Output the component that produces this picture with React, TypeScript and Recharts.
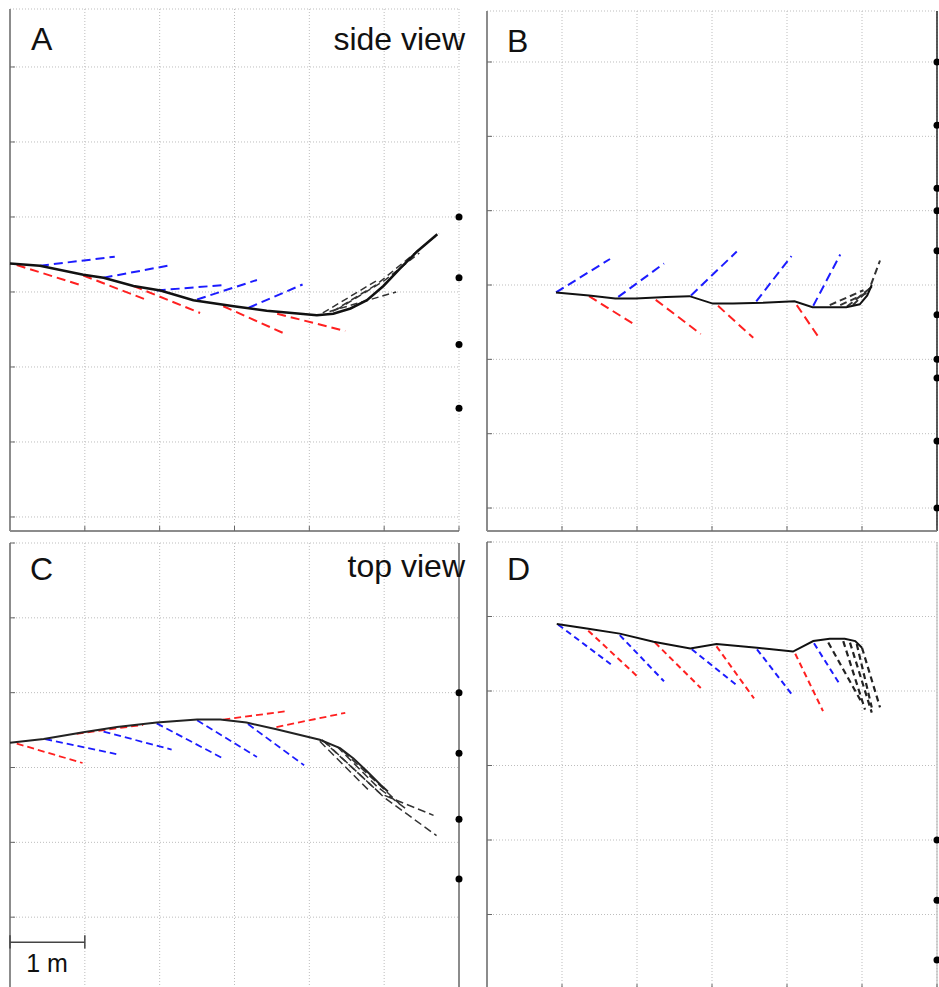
import React from "react";
import {
  ScatterChart,
  Scatter,
  XAxis,
  YAxis,
  CartesianGrid,
  ReferenceLine,
} from "recharts";

type Pt = [number, number];
type Path = Pt[];

// grid units are metres (one grid cell = 1 m)
const X_TICKS = [0, 1, 2, 3, 4, 5, 6];
const Y_TICKS_TOP = [0, 1, 2, 3, 4, 5, 6];
const Y_TICKS_BOTTOM = [-1, 0, 1, 2, 3, 4, 5];

// A - side view
const sideTrunkA: Path = [
  [0, 3.38], [0.4, 3.35], [0.98, 3.23], [1.25, 3.19], [1.65, 3.08], [2.01, 3.02],
  [2.45, 2.89], [2.99, 2.81], [3.43, 2.75], [3.88, 2.71], [4.1, 2.69], [4.32, 2.71],
  [4.55, 2.78], [4.77, 2.89], [4.99, 3.08], [5.21, 3.31], [5.44, 3.54], [5.71, 3.77],
];
const sideBlueA: Path[] = [
  [[0.4, 3.35], [1.4, 3.47]],
  [[1.25, 3.19], [2.16, 3.36]],
  [[1.96, 3.02], [2.83, 3.09]],
  [[2.5, 2.9], [3.3, 3.16]],
  [[3.19, 2.79], [3.91, 3.1]],
];
const sideRedA: Path[] = [
  [[0.09, 3.36], [0.98, 3.08]],
  [[0.98, 3.22], [1.81, 2.9]],
  [[1.65, 3.08], [2.54, 2.72]],
  [[2.85, 2.81], [3.68, 2.44]],
  [[3.57, 2.71], [4.48, 2.48]],
];
const sideBlackA: Path[] = [
  [[4.18, 2.72], [4.93, 3.17]],
  [[4.27, 2.74], [5.16, 3.0]],
  [[4.31, 2.74], [4.9, 3.1], [5.73, 3.78]],
  [[4.36, 2.76], [5.0, 3.15], [5.47, 3.52]],
];
const sideMarkersA = [4.0, 3.19, 2.3, 1.45];

// B - side view, second trial
const sideTrunkB: Path = [
  [0.92, 2.9], [1.36, 2.86], [1.71, 2.82], [1.98, 2.82], [2.39, 2.84], [2.7, 2.85],
  [3.01, 2.75], [3.28, 2.75], [3.68, 2.76], [4.1, 2.78], [4.34, 2.7], [4.79, 2.7],
  [4.97, 2.74], [5.07, 2.86], [5.13, 3.0],
];
const sideBlueB: Path[] = [
  [[0.92, 2.9], [1.64, 3.35]],
  [[1.75, 2.84], [2.36, 3.29]],
  [[2.72, 2.86], [3.33, 3.45]],
  [[3.59, 2.78], [4.06, 3.39]],
  [[4.35, 2.72], [4.71, 3.41]],
];
const sideRedB: Path[] = [
  [[1.36, 2.85], [1.98, 2.46]],
  [[2.25, 2.8], [2.85, 2.34]],
  [[3.08, 2.72], [3.55, 2.29]],
  [[4.13, 2.73], [4.44, 2.27]],
];
const sideBlackB: Path[] = [
  [[4.57, 2.73], [5.02, 2.93]],
  [[4.71, 2.73], [5.06, 2.89]],
  [[4.8, 2.71], [5.1, 2.95], [5.24, 3.33]],
  [[4.88, 2.73], [5.13, 2.98]],
];
const sideMarkersB = [6.0, 5.15, 4.3, 4.0, 3.46, 2.6, 2.0, 1.75, 0.9, 0];

// C - top view
const topTrunkC: Path = [
  [0, 2.33], [0.45, 2.38], [0.98, 2.47], [1.43, 2.54], [1.96, 2.6], [2.5, 2.64],
  [2.81, 2.64], [3.16, 2.6], [3.56, 2.51], [4.14, 2.37], [4.41, 2.26], [4.59, 2.12],
  [4.77, 1.95], [4.95, 1.77], [5.05, 1.68],
];
const topBlueC: Path[] = [
  [[0.47, 2.38], [1.42, 2.18]],
  [[1.25, 2.48], [2.16, 2.24]],
  [[1.96, 2.59], [2.83, 2.13]],
  [[2.5, 2.63], [3.3, 2.14]],
  [[3.18, 2.58], [3.93, 2.03]],
];
const topRedC: Path[] = [
  [[0.09, 2.32], [0.97, 2.06]],
  [[0.89, 2.45], [1.78, 2.57]],
  [[2.85, 2.64], [3.67, 2.75]],
  [[3.56, 2.54], [4.48, 2.73]],
];
const topBlackC: Path[] = [
  [[4.14, 2.35], [4.81, 1.68]],
  [[4.17, 2.37], [4.95, 1.65], [5.66, 1.36]],
  [[4.2, 2.35], [5.0, 1.6], [5.7, 1.09]],
  [[4.37, 2.28], [4.9, 1.75], [5.3, 1.44]],
  [[4.45, 2.22], [5.2, 1.52]],
];
const topMarkersC = [3.0, 2.19, 1.31, 0.51];
const scaleBarC: Path[] = [
  [[0, -0.334], [1, -0.334]],
  [[0, -0.24], [0, -0.42]],
  [[1, -0.24], [1, -0.42]],
];

// D - top view, second trial
const topTrunkD: Path = [
  [0.93, 3.9], [1.33, 3.84], [1.77, 3.77], [2.22, 3.66], [2.71, 3.57], [3.06, 3.63],
  [3.6, 3.58], [4.08, 3.53], [4.35, 3.67], [4.57, 3.7], [4.77, 3.7], [4.91, 3.67],
  [5.0, 3.58],
];
const topBlueD: Path[] = [
  [[0.95, 3.89], [1.65, 3.36]],
  [[1.77, 3.75], [2.36, 3.13]],
  [[2.73, 3.56], [3.34, 3.07]],
  [[3.6, 3.56], [4.06, 2.96]],
  [[4.36, 3.64], [4.71, 3.08]],
];
const topRedD: Path[] = [
  [[1.35, 3.81], [2.0, 3.2]],
  [[2.24, 3.65], [2.85, 3.04]],
  [[3.06, 3.6], [3.56, 2.9]],
  [[4.11, 3.5], [4.48, 2.73]],
];
const topBlackD: Path[] = [
  [[4.55, 3.65], [5.0, 2.84]],
  [[4.75, 3.67], [5.04, 2.75]],
  [[4.84, 3.65], [5.13, 2.71]],
  [[4.93, 3.63], [5.13, 2.78]],
  [[5.0, 3.58], [5.24, 2.78]],
];
const topMarkersD = [1.0, 0.19, -0.61];

const RED = "#ff2020";
const BLUE = "#1c1cff";
const PAD = 12;
const FONT = "'Liberation Sans', Arial, sans-serif";

type Layer = { paths: Path[]; color: string; width: number; dash?: string };
type PanelProps = {
  box: [number, number, number, number];
  yDomain: [number, number];
  yTicks: number[];
  layers: Layer[];
  markers: number[];
  edge?: { color: string; width: number };
};

const toData = (path: Path) => path.map(([x, y]) => ({ x, y }));
const Blank = () => <g />;
const NoLabel = () => <g />;
const MarkerDot = (p: any) => <circle cx={p.cx} cy={p.cy} r={3.5} fill="#000" />;

function Panel({ box, yDomain, yTicks, layers, markers, edge }: PanelProps) {
  const [left, top, w, h] = box;
  return (
    <div style={{ position: "absolute", left: left - PAD, top: top - PAD }}>
      <ScatterChart
        width={w + 2 * PAD}
        height={h + 2 * PAD}
        margin={{ top: PAD, right: PAD, bottom: PAD, left: PAD }}
      >
        <CartesianGrid stroke="#bdbdbd" strokeDasharray="1 2" />
        <XAxis
          type="number"
          dataKey="x"
          domain={[0, 6]}
          ticks={X_TICKS}
          mirror
          tick={NoLabel}
          tickSize={5}
          stroke="#666"
          axisLine={{ stroke: "#8c8c8c", strokeWidth: 2 }}
        />
        <YAxis
          type="number"
          dataKey="y"
          domain={yDomain}
          ticks={yTicks}
          mirror
          tick={NoLabel}
          tickSize={5}
          stroke="#666"
          axisLine={{ stroke: "#8c8c8c", strokeWidth: 2 }}
        />
        {edge && <ReferenceLine x={6} stroke={edge.color} strokeWidth={edge.width} />}
        {layers.map((layer, li) =>
          layer.paths.map((path, pi) => (
            <Scatter
              key={`${li}-${pi}`}
              data={toData(path)}
              fill={layer.color}
              line={{
                stroke: layer.color,
                strokeWidth: layer.width,
                strokeDasharray: layer.dash,
              }}
              lineType="joint"
              shape={Blank}
              isAnimationActive={false}
            />
          ))
        )}
        <Scatter
          data={markers.map((y) => ({ x: 6, y }))}
          fill="#000"
          shape={MarkerDot}
          isAnimationActive={false}
        />
      </ScatterChart>
    </div>
  );
}

export default function App() {
  return (
    <div
      style={{
        position: "absolute",
        left: 0,
        top: 0,
        width: 939,
        height: 987,
        overflow: "hidden",
        background: "#fff",
      }}
    >
      <Panel
        box={[10, 9, 449, 522]}
        yDomain={[-0.187, 6.773]}
        yTicks={Y_TICKS_TOP}
        markers={sideMarkersA}
        layers={[
          { paths: sideRedA, color: RED, width: 2, dash: "9 5" },
          { paths: sideBlueA, color: BLUE, width: 2, dash: "9 5" },
          { paths: sideBlackA, color: "#333", width: 1.5, dash: "7 4" },
          { paths: [sideTrunkA], color: "#111", width: 2.5 },
        ]}
      />
      <Panel
        box={[487, 11, 450, 520]}
        yDomain={[-0.309, 6.686]}
        yTicks={Y_TICKS_TOP}
        markers={sideMarkersB}
        edge={{ color: "#222", width: 1.5 }}
        layers={[
          { paths: sideRedB, color: RED, width: 2, dash: "9 5" },
          { paths: sideBlueB, color: BLUE, width: 2, dash: "9 5" },
          { paths: sideBlackB, color: "#333", width: 2, dash: "7 4" },
          { paths: [sideTrunkB], color: "#111", width: 2 },
        ]}
      />
      <Panel
        box={[10, 543, 449, 449]}
        yDomain={[-1, 5]}
        yTicks={Y_TICKS_BOTTOM}
        markers={topMarkersC}
        edge={{ color: "#8c8c8c", width: 2 }}
        layers={[
          { paths: topRedC, color: RED, width: 1.8, dash: "7 4" },
          { paths: topBlueC, color: BLUE, width: 1.8, dash: "7 4" },
          { paths: topBlackC, color: "#333", width: 1.5, dash: "8 4" },
          { paths: [topTrunkC], color: "#222", width: 2 },
          { paths: scaleBarC, color: "#444", width: 1.5 },
        ]}
      />
      <Panel
        box={[487, 542, 450, 447]}
        yDomain={[-1, 5]}
        yTicks={Y_TICKS_BOTTOM}
        markers={topMarkersD}
        edge={{ color: "#b0b0b0", width: 1 }}
        layers={[
          { paths: topRedD, color: RED, width: 2, dash: "6 4" },
          { paths: topBlueD, color: BLUE, width: 2, dash: "6 4" },
          { paths: topBlackD, color: "#222", width: 2.2, dash: "6 4" },
          { paths: [topTrunkD], color: "#111", width: 2 },
        ]}
      />
      <svg
        width={939}
        height={987}
        style={{ position: "absolute", left: 0, top: 0, pointerEvents: "none" }}
      >
        <g fontFamily={FONT} fontSize={32} fill="#111">
          <text x={31} y={50}>A</text>
          <text x={465} y={50} textAnchor="end">side view</text>
          <text x={507} y={52}>B</text>
          <text x={30} y={580}>C</text>
          <text x={465} y={577} textAnchor="end">top view</text>
          <text x={507} y={580}>D</text>
        </g>
        <text x={47} y={972} textAnchor="middle" fontFamily={FONT} fontSize={25} fill="#111">
          1 m
        </text>
      </svg>
    </div>
  );
}
